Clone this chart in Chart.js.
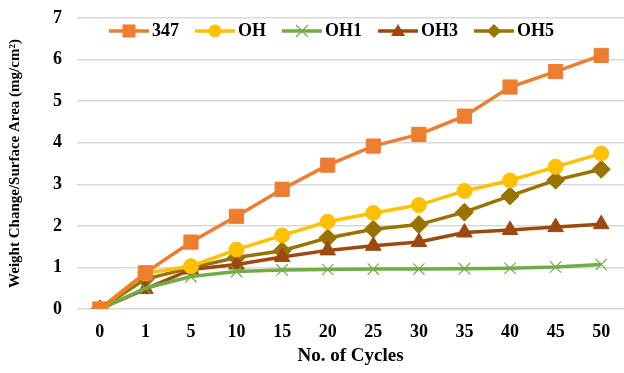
<!DOCTYPE html>
<html>
<head>
<meta charset="utf-8">
<script src="https://cdn.jsdelivr.net/npm/chart.js@4/dist/chart.umd.min.js"></script>
<style>
  html, body { margin: 0; padding: 0; background: #fff; overflow: hidden; }
  #wrap { position: relative; width: 624px; height: 373px; }
  canvas { display: block; }
</style>
</head>
<body>
<div id="wrap"><canvas id="grafico"></canvas></div>
<script>
const ciclos = ["0", "1", "5", "10", "15", "20", "25", "30", "35", "40", "45", "50"];

const s347 = [0, 0.87, 1.61, 2.23, 2.88, 3.46, 3.92, 4.2, 4.64, 5.34, 5.71, 6.1];
const sOH  = [0, 0.86, 1.03, 1.43, 1.77, 2.1, 2.31, 2.5, 2.84, 3.09, 3.42, 3.74];
const sOH1 = [0, 0.5, 0.78, 0.9, 0.94, 0.95, 0.96, 0.96, 0.97, 0.98, 1.01, 1.07];
const sOH3 = [0, 0.48, 0.95, 1.07, 1.25, 1.41, 1.52, 1.61, 1.84, 1.9, 1.97, 2.04];
const sOH5 = [0, 0.72, 0.99, 1.24, 1.4, 1.71, 1.92, 2.03, 2.33, 2.72, 3.1, 3.36];

const yTicks = [0, 1, 2, 3, 4, 5, 6, 7];

const series = [
    { label: "347", data: s347, cor: "#ED7D31", ponto: "rect", raio: 10 },
    { label: "OH", data: sOH, cor: "#FFC000", ponto: "circle", raio: 7.5 },
    { label: "OH1", data: sOH1, cor: "#70AD47", ponto: "crossRot", raio: 8 },
    { label: "OH3", data: sOH3, cor: "#9E480E", ponto: "triangle", raio: 9 },
    { label: "OH5", data: sOH5, cor: "#997300", ponto: "rectRot", raio: 9 }
];

const fonte = "'Liberation Serif', 'Times New Roman', serif";

// icone da legenda: linha com o marcador no meio
function iconeLegenda(s) {
    const c = document.createElement("canvas");
    c.width = 40;
    c.height = 18;
    const ctx = c.getContext("2d");
    const cx = 20, cy = 9;
    ctx.strokeStyle = s.cor;
    ctx.fillStyle = s.cor;
    ctx.lineWidth = 3.5;
    ctx.beginPath();
    ctx.moveTo(0, cy);
    ctx.lineTo(40, cy);
    ctx.stroke();
    ctx.beginPath();
    if (s.ponto === "rect") {
        ctx.rect(cx - 6.5, cy - 6.5, 13, 13);
        ctx.fill();
    } else if (s.ponto === "circle") {
        ctx.arc(cx, cy, 6.5, 0, Math.PI * 2);
        ctx.fill();
    } else if (s.ponto === "crossRot") {
        ctx.lineWidth = 1.2;
        ctx.moveTo(cx - 6, cy - 6); ctx.lineTo(cx + 6, cy + 6);
        ctx.moveTo(cx + 6, cy - 6); ctx.lineTo(cx - 6, cy + 6);
        ctx.stroke();
    } else if (s.ponto === "triangle") {
        ctx.moveTo(cx, cy - 7);
        ctx.lineTo(cx + 7, cy + 5);
        ctx.lineTo(cx - 7, cy + 5);
        ctx.closePath();
        ctx.fill();
    } else if (s.ponto === "rectRot") {
        ctx.moveTo(cx, cy - 7);
        ctx.lineTo(cx + 7, cy);
        ctx.lineTo(cx, cy + 7);
        ctx.lineTo(cx - 7, cy);
        ctx.closePath();
        ctx.fill();
    }
    return c;
}

const icones = series.map(iconeLegenda);

// legenda dentro da area do grafico, como no Excel
const legendaDentro = {
    id: "legendaDentro",
    beforeLayout(chart) {
        const leg = chart.legend;
        if (leg && !leg._patched) {
            const fitOrig = leg.fit;
            leg.fit = function () {
                fitOrig.call(this);
                this.height = 0;
            };
            leg._patched = true;
        }
    },
    afterLayout(chart) {
        const leg = chart.legend;
        leg.top = 0;
        leg.height = 48;
        leg.bottom = 48;
        leg.left = 42;
    }
};

new Chart(document.getElementById("grafico"), {
    type: "line",
    data: {
        labels: ciclos,
        datasets: series.map(s => ({
            label: s.label,
            data: s.data,
            borderColor: s.cor,
            backgroundColor: s.cor,
            borderWidth: 3.5,
            pointStyle: s.ponto,
            pointRadius: s.raio,
            pointHoverRadius: s.raio,
            pointBackgroundColor: s.cor,
            pointBorderColor: s.cor,
            pointBorderWidth: s.ponto === "crossRot" ? 1.2 : 1,
            tension: 0
        }))
    },
    plugins: [legendaDentro],
    options: {
        responsive: true,
        maintainAspectRatio: false,
        animation: false,
        layout: {
            autoPadding: false,
            padding: { left: 6, right: -3, top: 0, bottom: 7 }
        },
        plugins: {
            legend: {
                position: "top",
                align: "center",
                labels: {
                    usePointStyle: true,
                    pointStyleWidth: 28,
                    padding: 22,
                    color: "#000",
                    font: { family: fonte, size: 18, weight: "bold" },
                    generateLabels: chart => chart.data.datasets.map((d, i) => ({
                        text: d.label,
                        pointStyle: icones[i],
                        fillStyle: d.borderColor,
                        strokeStyle: d.borderColor,
                        lineWidth: 0,
                        fontColor: "#000",
                        datasetIndex: i
                    }))
                }
            },
            tooltip: { enabled: false }
        },
        scales: {
            x: {
                offset: true,
                grid: { display: false },
                border: { display: false },
                afterFit: scale => {
                    scale.paddingLeft = 0;
                    scale.paddingRight = -3;
                },
                ticks: {
                    color: "#000",
                    padding: 6,
                    font: { family: fonte, size: 18, weight: "bold", lineHeight: 1 }
                },
                title: {
                    display: true,
                    text: "No. of Cycles",
                    color: "#000",
                    padding: { top: 0, bottom: 0 },
                    font: { family: fonte, size: 19, weight: "bold", lineHeight: 1 }
                }
            },
            y: {
                min: 0,
                max: 7,
                afterBuildTicks: axis => {
                    axis.ticks = yTicks.map(v => ({ value: v }));
                },
                afterFit: scale => {
                    scale.paddingTop = 18;
                    scale.paddingBottom = 0;
                    scale.paddingRight = -3;
                },
                grid: { color: "#D9D9D9", lineWidth: 1.5, drawTicks: false },
                border: { display: false },
                ticks: {
                    color: "#000",
                    padding: 15,
                    font: { family: fonte, size: 18, weight: "bold", lineHeight: 1 }
                },
                title: {
                    display: true,
                    text: "Weight Change/Surface Area (mg/cm²)",
                    color: "#000",
                    padding: { top: 0, bottom: 14 },
                    font: { family: fonte, size: 15, weight: "bold" }
                }
            }
        }
    }
});
</script>
</body>
</html>
